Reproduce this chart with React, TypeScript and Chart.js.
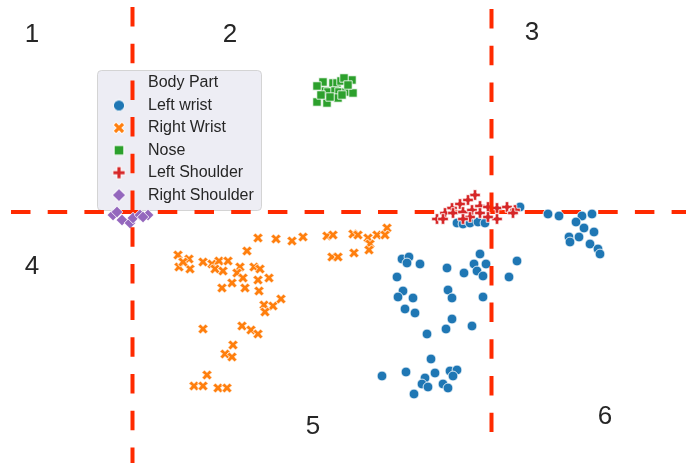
import React, { useEffect, useRef } from "react";
import { Chart, registerables } from "chart.js";
Chart.register(...registerables);

// ---- data (image coordinates of key points) ----
const leftWristX = [520, 548, 559, 582, 592, 576, 584, 594, 569, 579, 570, 590, 598, 600,
  457, 463, 470, 478, 485,
  402, 409, 407, 420, 447, 464, 480, 474, 486, 477, 483, 517, 509, 397, 403, 398, 413, 448, 452, 483,
  405, 415, 452, 446, 472, 427, 431, 382, 406, 435, 450, 457, 453, 425, 422, 428, 443, 448, 414];
const leftWristY = [207, 214, 216, 216, 214, 222, 228, 232, 237, 237, 242, 244, 249, 254,
  223, 224, 223, 222, 223,
  259, 257, 263, 264, 268, 273, 254, 264, 264, 271, 276, 261, 277, 277, 291, 297, 298, 290, 298, 297,
  309, 313, 319, 329, 326, 334, 359, 376, 372, 373, 371, 370, 376, 378, 384, 387, 384, 388, 394];

const rightWristX = [258, 276, 292, 303, 327, 333, 353, 358, 368, 377, 387, 385, 370, 369, 354, 332, 338,
  247, 178, 189, 179, 190, 183, 203, 212, 219, 228, 215, 223, 240, 254, 260, 237, 243, 258, 269, 232, 222,
  245, 259, 264, 273, 265, 281, 203, 242, 251, 258, 233, 225, 232, 207, 194, 203, 218, 227];
const rightWristY = [238, 239, 241, 237, 236, 235, 234, 235, 238, 235, 228, 235, 244, 250, 253, 257, 257,
  251, 255, 259, 267, 269, 262, 262, 264, 261, 261, 269, 271, 267, 267, 269, 273, 278, 280, 278, 283, 288,
  288, 291, 305, 306, 312, 299, 329, 326, 330, 334, 345, 354, 357, 375, 386, 386, 388, 388];

const noseX = [323, 352, 333, 337, 341, 344, 325, 328, 335, 339, 346, 353, 317, 327, 338, 342, 317, 348, 330, 321];
const noseY = [82, 80, 83, 83, 81, 78, 91, 92, 91, 92, 92, 93, 102, 103, 98, 95, 86, 85, 97, 95];

const leftShoulderX = [475, 468, 460, 452, 445, 437, 443, 453, 463, 472, 480, 488, 480, 470, 497, 507, 515, 513, 497, 488, 463];
const leftShoulderY = [195, 200, 204, 208, 213, 219, 219, 213, 212, 210, 206, 207, 213, 217, 208, 207, 210, 213, 219, 217, 219];

const rightShoulderX = [113, 122, 130, 133, 140, 148, 143, 117];
const rightShoulderY = [215, 220, 223, 218, 215, 215, 217, 212];

const seriesNames = ["Left wrist", "Right Wrist", "Nose", "Left Shoulder", "Right Shoulder"];
const seriesColors = ["#1f77b4", "#ff7f0e", "#2ca02c", "#d62728", "#9467bd"];
const seriesMarkers = ["circle", "x", "square", "plus", "diamond"];
const legendTitle = "Body Part";

const regionLabels = ["1", "2", "3", "4", "5", "6"];
const regionLabelX = [32, 230, 532, 32, 313, 605];
const regionLabelY = [35, 35, 33, 267, 427, 417];

// dashed divider lines
const verticalDividerX = [132.5, 491.5];
const verticalDividerTop = [7, 9];
const verticalDividerBottom = [463, 432];
const horizontalDividerY = 212;
const horizontalDividerLeft = 11;
const horizontalDividerRight = 686;

const X_MAX = 686;
const Y_MAX = 465;

function makeMarker(kind: string, color: string, k = 1): HTMLCanvasElement {
  const size = 20;
  const c = document.createElement("canvas");
  c.width = size;
  c.height = size;
  const ctx = c.getContext("2d")!;
  ctx.translate(size / 2, size / 2);
  ctx.scale(k, k);
  ctx.beginPath();
  if (kind === "circle") {
    ctx.arc(0, 0, 4.9, 0, Math.PI * 2);
  } else if (kind === "square") {
    ctx.rect(-4.2, -4.2, 8.4, 8.4);
  } else if (kind === "diamond") {
    ctx.moveTo(0, -5.8);
    ctx.lineTo(5.8, 0);
    ctx.lineTo(0, 5.8);
    ctx.lineTo(-5.8, 0);
    ctx.closePath();
  } else {
    const L = kind === "x" ? 5.4 : 5.3;
    const w = 1.8;
    const pts = [
      [w, -w], [L, -w], [L, w], [w, w], [w, L], [-w, L], [-w, w], [-L, w], [-L, -w], [-w, -w], [-w, -L], [w, -L],
    ];
    if (kind === "x") ctx.rotate(Math.PI / 4);
    pts.forEach((p, i) => (i === 0 ? ctx.moveTo(p[0], p[1]) : ctx.lineTo(p[0], p[1])));
    ctx.closePath();
  }
  ctx.fillStyle = color;
  ctx.fill();
  ctx.strokeStyle = "rgba(255,255,255,0.9)";
  ctx.lineWidth = 0.9;
  ctx.stroke();
  return c;
}

function pts(xs: number[], ys: number[]) {
  return xs.map((x, i) => ({ x, y: ys[i] }));
}

export default function App() {
  const ref = useRef<HTMLCanvasElement | null>(null);
  useEffect(() => {
    document.body.style.margin = "0";
    const canvas = ref.current!;
    const markers = seriesMarkers.map((m, i) => makeMarker(m, seriesColors[i]));
    const legendMarkers = seriesMarkers.map((m, i) => makeMarker(m, seriesColors[i], 1.15));
    const seriesX = [leftWristX, rightWristX, noseX, leftShoulderX, rightShoulderX];
    const seriesY = [leftWristY, rightWristY, noseY, leftShoulderY, rightShoulderY];
    const dividerColor = "#ff2a00";
    const dash = [19.5, 17.2];

    const scatterSets = seriesNames.map((name, i) => ({
      label: name,
      data: pts(seriesX[i], seriesY[i]),
      pointStyle: markers[i],
      pointRadius: 6,
      showLine: false,
      order: 5 - i,
    }));

    const lineSets: any[] = [
      {
        label: "hline",
        data: [
          { x: horizontalDividerLeft, y: horizontalDividerY },
          { x: horizontalDividerRight, y: horizontalDividerY },
        ],
        showLine: true,
        borderColor: dividerColor,
        borderWidth: 4,
        borderDash: dash,
        pointRadius: 0,
        order: 20,
      },
      ...verticalDividerX.map((vx, i) => ({
        label: "vline" + i,
        data: [
          { x: vx, y: verticalDividerTop[i] },
          { x: vx, y: verticalDividerBottom[i] },
        ],
        showLine: true,
        borderColor: dividerColor,
        borderWidth: 4,
        borderDash: dash,
        pointRadius: 0,
        order: -1,
      })),
    ];

    const overlay = {
      id: "overlay",
      beforeDatasetsDraw(chart: any) {
        const ctx = chart.ctx;
        const xs = chart.scales.x;
        const ys = chart.scales.y;
        // legend box
        const bx = xs.getPixelForValue(97);
        const by = ys.getPixelForValue(70);
        const bw = xs.getPixelForValue(261) - bx;
        const bh = ys.getPixelForValue(210) - by;
        ctx.save();
        ctx.beginPath();
        ctx.roundRect(bx + 0.5, by + 0.5, bw, bh, 4);
        ctx.fillStyle = "rgba(234,234,242,0.85)";
        ctx.fill();
        ctx.strokeStyle = "rgba(204,204,204,0.8)";
        ctx.lineWidth = 1;
        ctx.stroke();
        ctx.fillStyle = "#262626";
        ctx.font = "16px 'Liberation Sans', Arial, sans-serif";
        ctx.textBaseline = "middle";
        ctx.textAlign = "left";
        const textX = xs.getPixelForValue(148);
        const markerX = xs.getPixelForValue(119);
        ctx.fillText(legendTitle, textX, ys.getPixelForValue(83));
        seriesNames.forEach((n, i) => {
          const yy = ys.getPixelForValue(105.5 + i * 22.4);
          ctx.fillText(n, textX, yy);
          const m = legendMarkers[i];
          ctx.drawImage(m, markerX - m.width / 2, yy - m.height / 2);
        });
        ctx.restore();
      },
      afterDatasetsDraw(chart: any) {
        const ctx = chart.ctx;
        const xs = chart.scales.x;
        const ys = chart.scales.y;
        ctx.save();
        ctx.fillStyle = "#262626";
        ctx.font = "26px 'Liberation Sans', Arial, sans-serif";
        ctx.textAlign = "center";
        ctx.textBaseline = "middle";
        regionLabels.forEach((t, i) => {
          ctx.fillText(t, xs.getPixelForValue(regionLabelX[i]), ys.getPixelForValue(regionLabelY[i]));
        });
        ctx.restore();
      },
    };

    const chart = new Chart(canvas, {
      type: "scatter",
      data: { datasets: [...scatterSets, ...lineSets] as any },
      options: {
        animation: false,
        responsive: false,
        devicePixelRatio: 1,
        layout: { padding: 0, autoPadding: false },
        plugins: { legend: { display: false }, tooltip: { enabled: false } },
        scales: {
          x: { type: "linear", min: 0, max: X_MAX, display: false },
          y: { type: "linear", min: 0, max: Y_MAX, reverse: true, display: false },
        },
      },
      plugins: [overlay],
    });
    return () => chart.destroy();
  }, []);
  return (
    <canvas
      ref={ref}
      width={686}
      height={465}
      style={{ position: "fixed", left: 0, top: 0, width: 686, height: 465, display: "block", background: "#fff" }}
    />
  );
}
